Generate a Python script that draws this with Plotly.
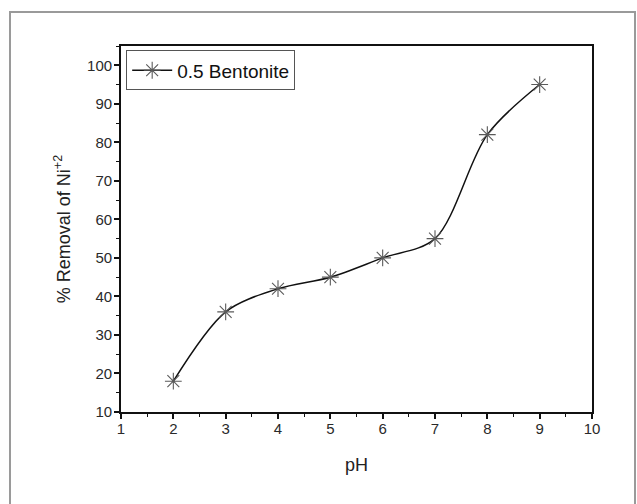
import plotly.graph_objects as go

# Removal of Ni(+2) by 0.5 Bentonite at different pH
ph = [2, 3, 4, 5, 6, 7, 8, 9]
removal = [18, 36, 42, 45, 50, 55, 82, 95]
series_name = "0.5 Bentonite"

x_ticks = [1, 2, 3, 4, 5, 6, 7, 8, 9, 10]
y_ticks = [10, 20, 30, 40, 50, 60, 70, 80, 90, 100]

W, H = 637, 504
L, R, T, B = 121, 45, 46, 92

FONT = "Arial, Liberation Sans, sans-serif"

fig = go.Figure()
fig.add_trace(go.Scatter(
    x=ph, y=removal, name=series_name,
    mode="lines+markers",
    line=dict(color="#111111", width=1.5, shape="spline", smoothing=0.9),
    marker=dict(symbol="asterisk-open", size=14,
                color="#5a5a5a", line=dict(color="#5a5a5a", width=1.1)),
))

axis_common = dict(
    showline=True, linecolor="#111111", linewidth=1.8, mirror=True,
    ticks="outside", ticklen=5, tickwidth=1.5, tickcolor="#111111",
    showgrid=False, zeroline=False,
    tickfont=dict(family=FONT, size=15, color="#2a2a2a"),
    title_font=dict(family=FONT, size=18, color="#222222"),
    minor=dict(ticks="outside", ticklen=3, tickwidth=1.2, tickcolor="#111111"),
)

fig.update_xaxes(range=[1, 10], tickvals=x_ticks, title_text="pH",
                 title_standoff=22, ticklabelstandoff=-3,
                 minor_dtick=0.5, **axis_common)
fig.update_yaxes(range=[10, 105], tickvals=y_ticks,
                 title_text="% Removal of Ni<sup>+2</sup>",
                 title_standoff=12, ticklabelstandoff=-1,
                 minor_dtick=5, **axis_common)

# grey frame around the whole figure
pw, ph_px = W - L - R, H - T - B
fig.add_shape(type="rect", xref="paper", yref="paper",
              x0=(10 - L) / pw, x1=(635 - L) / pw,
              y0=(H - B - 520) / ph_px, y1=(H - B - 12) / ph_px,
              line=dict(color="#9a9a9a", width=2), layer="below")

fig.update_layout(
    width=W, height=H,
    margin=dict(l=L, r=R, t=T, b=B),
    paper_bgcolor="white", plot_bgcolor="white",
    showlegend=True,
    legend=dict(x=0.011, y=0.988, xanchor="left", yanchor="top",
                bordercolor="#555555", borderwidth=1, bgcolor="white",
                font=dict(family=FONT, size=19, color="#111111"),
                tracegroupgap=0, itemwidth=40),
)

fig.write_html("out.html")
